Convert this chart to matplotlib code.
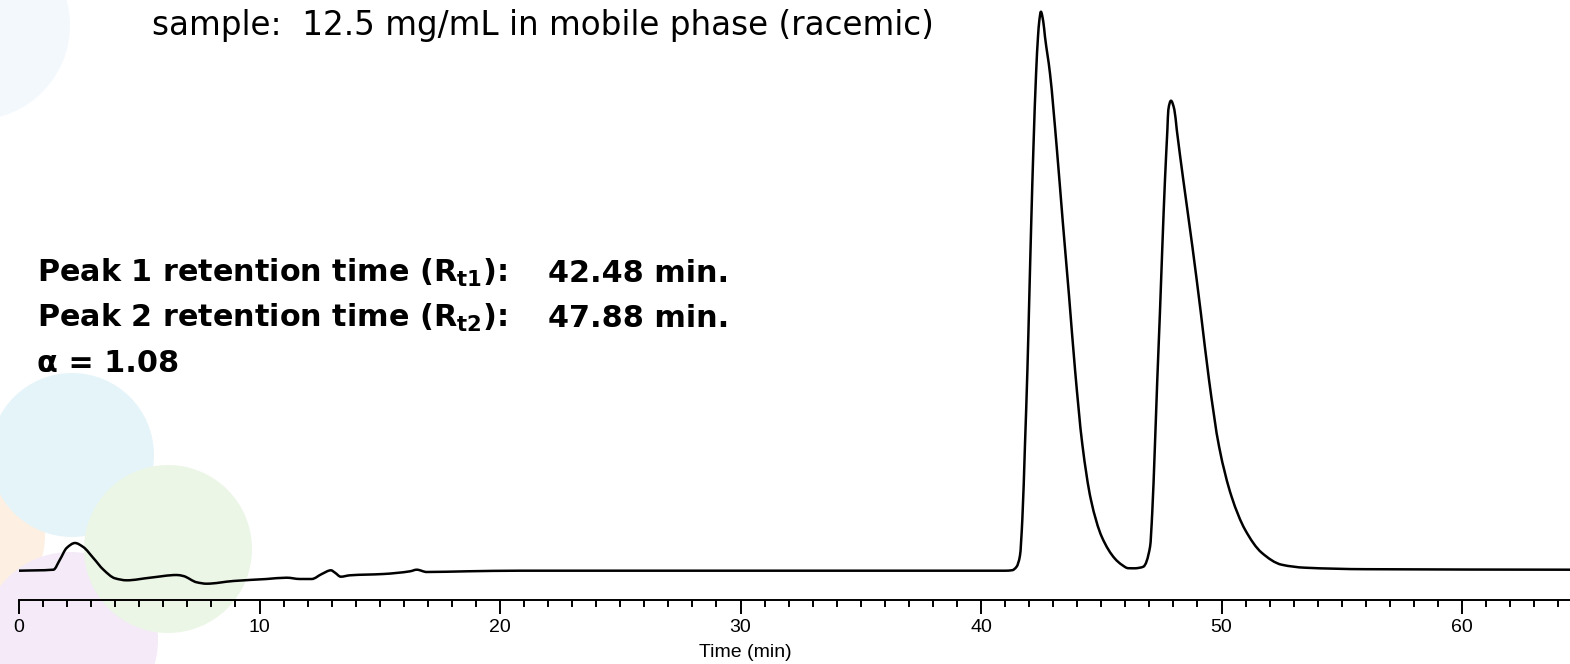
import matplotlib
matplotlib.use('Agg')
import matplotlib.pyplot as plt
import numpy as np
from matplotlib.patches import Circle, PathPatch
from matplotlib.path import Path
from matplotlib.ticker import MultipleLocator

# chromatogram trace (time in min, detector signal in arbitrary units)
time_min = [0.00, 1.43, 1.70, 1.98, 2.33, 2.67, 3.09, 3.51, 3.99, 4.48, 5.45, 6.56, 6.83,
            7.39, 7.80, 8.91, 10.30, 11.13, 11.68, 12.17, 12.59, 12.97, 13.14, 13.38, 13.76,
            15.15, 16.26, 16.54, 16.95, 18.61, 20.83, 30.00, 41.00, 41.30, 41.48, 41.62,
            41.72, 41.83, 41.93, 42.01, 42.09, 42.18, 42.29, 42.37, 42.42, 42.49, 42.59,
            42.66, 42.87, 43.15, 43.40, 43.66, 43.91, 44.21, 44.57, 45.02, 45.57, 45.85,
            46.12, 46.40, 46.60, 46.75, 47.03, 47.12, 47.23, 47.33, 47.44, 47.54, 47.65,
            47.75, 47.79, 47.90, 48.04, 48.14, 48.41, 48.79, 49.14, 49.48, 49.90, 50.42,
            50.98, 51.67, 52.50, 53.47, 56.00, 64.50]
signal = [0.0, 1.0, 11.0, 22.7, 27.7, 23.7, 12.7, 1.0, -7.6, -9.6, -7.0, -4.3, -5.3,
          -11.6, -13.0, -10.3, -8.3, -7.0, -8.3, -8.3, -3.3, 0.4, -2.0, -6.0, -4.6,
          -3.3, -0.6, 1.0, -1.3, -0.6, 0.0, 0.0, 0.0, 0.5, 4.0, 15.0,
          52.0, 127.0, 201.0, 275.0, 349.0, 423.0, 497.0, 534.0, 549.0, 559.0, 549.0,
          534.0, 497.0, 423.0, 349.0, 275.0, 201.0, 127.0, 71.0, 34.0, 12.0, 6.0,
          2.5, 2.4, 3.0, 4.0, 24.0, 58.0, 124.0, 191.0, 258.0, 324.0, 391.0,
          441.0, 461.0, 470.0, 461.0, 441.0, 391.0, 324.0, 258.0, 191.0, 124.0, 74.0,
          41.0, 18.0, 6.0, 3.0, 1.5, 1.0]

sample_text = 'sample:  12.5 mg/mL in mobile phase (racemic)'
peak_labels = [r'Peak 1 retention time (R$_{\mathbf{t1}}$):', r'Peak 2 retention time (R$_{\mathbf{t2}}$):']
peak_times = ['42.48 min.', '47.88 min.']
alpha_text = 'α = 1.08'

plt.rcParams['font.family'] = ['Liberation Sans', 'DejaVu Sans']
plt.rcParams['mathtext.fontset'] = 'dejavusans'


def smooth_path(x, y):
    # monotone cubic (Fritsch-Carlson) through the points, drawn as bezier segments
    x = np.asarray(x, float)
    y = np.asarray(y, float)
    h = np.diff(x)
    d = np.diff(y) / h
    m = np.zeros_like(y)
    m[0], m[-1] = d[0], d[-1]
    for i in range(1, len(x) - 1):
        if d[i - 1] * d[i] > 0:
            w1 = 2 * h[i] + h[i - 1]
            w2 = h[i] + 2 * h[i - 1]
            m[i] = (w1 + w2) / (w1 / d[i - 1] + w2 / d[i])
    verts = [(x[0], y[0])]
    codes = [Path.MOVETO]
    for i in range(len(x) - 1):
        verts += [(x[i] + h[i] / 3, y[i] + m[i] * h[i] / 3),
                  (x[i + 1] - h[i] / 3, y[i + 1] - m[i + 1] * h[i] / 3),
                  (x[i + 1], y[i + 1])]
        codes += [Path.CURVE4] * 3
    return Path(verts, codes)


W, H = 1570, 664
fig = plt.figure(figsize=(W / 100, H / 100), dpi=100)

# faint watermark circles behind the chart
bg = fig.add_axes([0, 0, 1, 1], zorder=-1)
bg.set_xlim(0, W)
bg.set_ylim(H, 0)
bg.axis('off')
for (cx, cy, r, c) in [(-25, 25, 95, '#f3f8fd'), (-40, 535, 85, '#fdf0e2'),
                       (72, 455, 82, '#e5f4f9'), (70, 640, 88, '#f4eaf8'),
                       (168, 549, 84, '#ebf6e6')]:
    bg.add_patch(Circle((cx, cy), r, facecolor=c, edgecolor='none'))

# main axes: x=0 at px 19, axis line at py 600
x0 = 19
ax = fig.add_axes([x0 / W, (H - 600) / H, 1 - x0 / W, 600 / H])
ax.patch.set_alpha(0)
ax.add_patch(PathPatch(smooth_path(time_min, signal), facecolor='none',
                       edgecolor='black', lw=1.8, capstyle='round', joinstyle='round'))
ax.set_xlim(0, (W - x0) / 24.05)
ax.set_ylim(-29.3, 570.7)

for s in ['left', 'top', 'right']:
    ax.spines[s].set_visible(False)
ax.spines['bottom'].set_linewidth(1.4)
ax.set_yticks([])
ax.xaxis.set_major_locator(MultipleLocator(10))
ax.xaxis.set_minor_locator(MultipleLocator(1))
ax.tick_params(axis='x', which='major', length=10, width=1.4, pad=4, labelsize=14)
ax.tick_params(axis='x', which='minor', length=5, width=1.4)
ax.set_xlabel('Time (min)', fontsize=14)
ax.xaxis.set_label_coords((745 - x0) / (W - x0), -44 / 600)

# annotations (wide face to match the stretched lettering of the original)
fig.text(152 / W, 1 - 35 / H, sample_text, fontsize=23.5, family='DejaVu Sans',
         va='baseline', ha='left')
for i in range(2):
    yb = 1 - (282 + 45 * i) / H
    fig.text(37 / W, yb, peak_labels[i], fontsize=21.8, family='DejaVu Sans',
             fontweight='bold', va='baseline')
    fig.text(548 / W, yb, peak_times[i], fontsize=21.8, family='DejaVu Sans',
             fontweight='bold', va='baseline')
fig.text(37 / W, 1 - 372 / H, alpha_text, fontsize=21.8, family='DejaVu Sans',
         fontweight='bold', va='baseline')

fig.savefig('out.png', dpi=100)
